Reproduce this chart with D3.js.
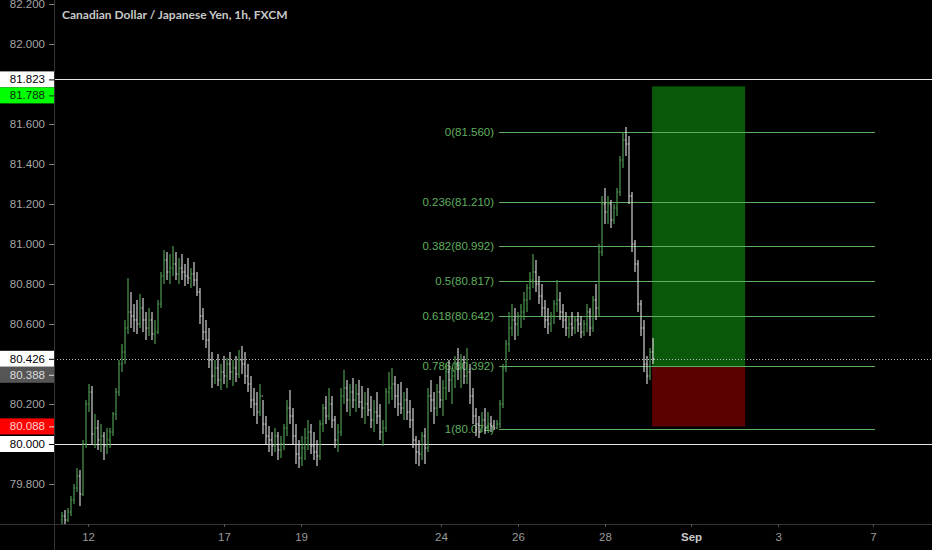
<!DOCTYPE html>
<html>
<head>
<meta charset="utf-8">
<script src="https://cdn.jsdelivr.net/npm/d3@7"></script>
<style>
  body { margin: 0; background: #000; }
  svg { display: block; }
</style>
</head>
<body>
<div id="chart"></div>
<script>
// chart size + plot area
const width = 932;
const height = 550;
const margin = {left: 54, right: 0, top: 0, bottom: 26};

// hourly bars (open = previous close)
const firstOpen = 79.62;
const highs = [
  79.66,79.67,79.68,79.74,79.80,79.88,79.87,80.02,80.22,80.30,
  80.29,80.15,80.12,80.10,80.06,80.08,80.08,80.16,80.28,80.42,
  80.50,80.62,80.83,80.76,80.70,80.72,80.75,80.73,80.66,80.68,
  80.66,80.62,80.72,80.86,80.97,80.96,80.95,80.99,80.96,80.93,
  80.95,80.90,80.93,80.88,80.91,80.86,80.78,80.68,80.62,80.58,
  80.46,80.42,80.45,80.40,80.44,80.43,80.46,80.42,80.44,80.47,
  80.49,80.46,80.40,80.34,80.28,80.26,80.30,80.22,80.14,80.09,
  80.06,80.08,80.06,80.04,80.10,80.22,80.27,80.18,80.10,80.02,
  80.04,80.08,80.12,80.10,80.06,80.02,80.12,80.20,80.24,80.28,
  80.24,80.14,80.10,80.28,80.37,80.32,80.30,80.33,80.30,80.32,
  80.29,80.26,80.28,80.24,80.22,80.26,80.20,80.12,80.28,80.36,
  80.38,80.34,80.30,80.31,80.26,80.28,80.22,80.18,80.04,80.02,
  80.06,80.08,80.28,80.32,80.26,80.30,80.34,80.32,80.40,80.42,
  80.38,80.44,80.48,80.45,80.44,80.48,80.40,80.28,80.18,80.14,
  80.16,80.18,80.16,80.14,80.12,80.12,80.22,80.40,80.52,80.66,
  80.70,80.68,80.66,80.70,80.76,80.80,80.86,80.95,80.92,80.84,
  80.80,80.72,80.68,80.66,80.72,80.82,80.76,80.70,80.66,80.64,
  80.66,80.64,80.66,80.64,80.62,80.70,80.68,80.74,80.80,81.00,
  81.24,81.28,81.24,81.22,81.20,81.28,81.44,81.56,81.585,81.54,
  81.26,81.02,80.92,80.72,80.62,80.44,80.48,80.53
];
const lows = [
  79.58,79.60,79.61,79.64,79.70,79.76,79.69,79.74,79.98,80.16,
  80.00,79.98,79.97,79.96,79.92,79.95,79.98,80.04,80.12,80.24,
  80.36,80.40,80.55,80.58,80.56,80.55,80.58,80.56,80.52,80.54,
  80.52,80.50,80.55,80.68,80.80,80.82,80.80,80.84,80.82,80.80,
  80.82,80.79,80.80,80.78,80.79,80.74,80.60,80.52,80.48,80.38,
  80.28,80.30,80.29,80.27,80.30,80.28,80.32,80.29,80.31,80.33,
  80.35,80.30,80.26,80.18,80.14,80.10,80.14,80.05,80.00,79.96,
  79.94,79.96,79.92,79.93,79.97,80.04,80.10,80.00,79.90,79.88,
  79.89,79.92,79.97,79.95,79.92,79.89,79.92,80.06,80.10,80.12,
  80.08,79.98,79.96,80.04,80.20,80.16,80.14,80.18,80.16,80.18,
  80.13,80.10,80.14,80.08,80.06,80.10,80.02,79.99,80.06,80.20,
  80.22,80.18,80.14,80.15,80.12,80.12,80.08,79.98,79.90,79.89,
  79.92,79.90,79.96,80.16,80.10,80.14,80.18,80.14,80.22,80.26,
  80.20,80.28,80.32,80.28,80.30,80.30,80.20,80.10,80.04,80.03,
  80.06,80.05,80.07,80.06,80.07,80.074,80.08,80.18,80.36,80.46,
  80.54,80.52,80.54,80.58,80.62,80.66,80.72,80.78,80.76,80.70,
  80.64,80.58,80.55,80.56,80.60,80.66,80.62,80.58,80.54,80.53,
  80.54,80.55,80.56,80.53,80.54,80.56,80.54,80.56,80.62,80.64,
  80.94,81.10,81.10,81.08,81.10,81.14,81.24,81.38,81.44,81.20,
  80.96,80.86,80.66,80.54,80.36,80.30,80.32,80.40
];
const closes = [
  79.64,79.62,79.66,79.72,79.78,79.84,79.75,80.00,80.20,80.26,
  80.05,80.08,80.02,80.04,79.99,80.02,80.06,80.15,80.26,80.40,
  80.46,80.58,80.66,80.64,80.62,80.60,80.68,80.62,80.58,80.62,
  80.55,80.56,80.70,80.84,80.92,80.86,80.88,80.90,80.85,80.88,
  80.86,80.84,80.83,80.85,80.82,80.76,80.64,80.56,80.52,80.42,
  80.34,80.38,80.32,80.36,80.34,80.40,80.36,80.38,80.35,80.42,
  80.40,80.34,80.30,80.22,80.20,80.16,80.24,80.10,80.04,80.02,
  79.99,80.04,79.97,80.00,80.08,80.18,80.14,80.04,79.95,79.93,
  79.98,80.03,80.06,79.99,79.96,79.94,80.10,80.18,80.14,80.20,
  80.12,80.02,80.06,80.24,80.28,80.22,80.26,80.22,80.25,80.21,
  80.18,80.20,80.17,80.12,80.16,80.14,80.06,80.08,80.26,80.28,
  80.30,80.24,80.20,80.18,80.22,80.16,80.12,80.02,79.96,79.95,
  80.04,79.98,80.24,80.22,80.18,80.26,80.22,80.28,80.36,80.32,
  80.34,80.40,80.38,80.42,80.34,80.36,80.24,80.14,80.10,80.06,
  80.12,80.08,80.10,80.09,80.08,80.10,80.20,80.38,80.50,80.58,
  80.62,80.60,80.64,80.66,80.72,80.78,80.82,80.86,80.80,80.74,
  80.68,80.62,80.60,80.64,80.70,80.72,80.66,80.62,80.58,80.60,
  80.58,80.62,80.60,80.56,80.60,80.66,80.58,80.72,80.68,80.96,
  81.20,81.16,81.20,81.12,81.18,81.26,81.42,81.52,81.50,81.24,
  81.00,80.90,80.70,80.58,80.40,80.34,80.46,80.426
];

// x axis day labels and the bar index they sit on
const dayLabels = ["12", "17", "19", "24", "26", "28", "Sep", "3", "7"];
const dayTicks = [8.7, 54, 79.7, 126.3, 152, 181, 209.7, 238.7, 270.3];

// y axis ticks (81.8, 80.4 and 80.0 sit under the price boxes)
const priceTicks = [82.2, 82.0, 81.6, 81.4, 81.2, 81.0, 80.8, 80.6, 80.2, 79.8];

// fib retracement
const fibRatios = ["0", "0.236", "0.382", "0.5", "0.618", "0.786", "1"];
const fibPrices = [81.560, 81.210, 80.992, 80.817, 80.642, 80.392, 80.074];
const fibStart = 145.7;
const fibEnd = 271;

// long position tool
const posStart = 196.7;
const posEnd = 227.7;
const targetPrice = 81.788;
const entryPrice = 80.388;
const stopPrice = 80.088;

// price labels on the axis
const markerValues = [81.823, 81.788, 80.426, 80.388, 80.088, 80.000];
const markerFill = ["#ffffff", "#00ff00", "#ffffff", "#555555", "#ff0000", "#ffffff"];
const markerText = ["#000000", "#0a2a0a", "#000000", "#dddddd", "#ffd0d0", "#000000"];

// horizontal lines across the plot
const hLines = [81.823, 80.000];
const lastPrice = 80.426;

const upColor = "#4f9a4f";
const downColor = "#d4d4d4";
const fibColor = "#5fae5f";

const svg = d3.select("#chart")
  .append("svg")
  .attr("width", width)
  .attr("height", height)
  .style("background", "#000");

// scales
const xScale = d3.scaleLinear()
  .domain([0, 290])
  .range([62, 932]);

const yScale = d3.scaleLinear()
  .domain([79.6, 82.22])
  .range([height - margin.bottom, margin.top]);

svg.append("clipPath")
  .attr("id", "plot-clip")
  .append("rect")
  .attr("x", margin.left)
  .attr("y", 0)
  .attr("width", width - margin.left)
  .attr("height", height - margin.bottom);

const plot = svg.append("g").attr("clip-path", "url(#plot-clip)");

// position tool boxes
plot.append("rect")
  .attr("x", xScale(posStart))
  .attr("y", yScale(targetPrice))
  .attr("width", xScale(posEnd) - xScale(posStart))
  .attr("height", yScale(entryPrice) - yScale(targetPrice))
  .attr("fill", "#0a590a");

plot.append("rect")
  .attr("x", xScale(posStart))
  .attr("y", yScale(entryPrice))
  .attr("width", xScale(posEnd) - xScale(posStart))
  .attr("height", yScale(stopPrice) - yScale(entryPrice))
  .attr("fill", "#5c0000");

// horizontal white lines
plot.selectAll(".hline")
  .data(hLines)
  .enter()
  .append("line")
  .attr("class", "hline")
  .attr("x1", margin.left)
  .attr("x2", width)
  .attr("y1", d => Math.round(yScale(d)) + 0.5)
  .attr("y2", d => Math.round(yScale(d)) + 0.5)
  .attr("stroke", "#e6e6e6")
  .attr("stroke-width", 1.2);

// last price dotted line
plot.append("line")
  .attr("x1", margin.left)
  .attr("x2", width)
  .attr("y1", Math.round(yScale(lastPrice)) + 0.5)
  .attr("y2", Math.round(yScale(lastPrice)) + 0.5)
  .attr("stroke", "#bbbbbb")
  .attr("stroke-dasharray", "1,2");

// fib lines + labels (drawn under the bars)
const fibData = fibRatios.map((r, i) => ({ratio: r, price: fibPrices[i]}));

plot.selectAll(".fib")
  .data(fibData)
  .enter()
  .append("line")
  .attr("class", "fib")
  .attr("x1", xScale(fibStart))
  .attr("x2", xScale(fibEnd))
  .attr("y1", d => Math.round(yScale(d.price)) + 0.5)
  .attr("y2", d => Math.round(yScale(d.price)) + 0.5)
  .attr("stroke", fibColor)
  .attr("stroke-width", 1);

plot.selectAll(".fib-label")
  .data(fibData)
  .enter()
  .append("text")
  .attr("class", "fib-label")
  .attr("x", xScale(fibStart) - 5)
  .attr("y", d => yScale(d.price))
  .attr("dy", "0.35em")
  .attr("text-anchor", "end")
  .attr("fill", fibColor)
  .attr("font-family", "Liberation Sans, Arial, sans-serif")
  .attr("font-size", "11.5px")
  .text(d => d.ratio + "(" + d.price.toFixed(3) + ")");

// OHLC bars
const bars = highs.map((h, i) => ({
  i: i,
  open: i === 0 ? firstOpen : closes[i - 1],
  high: h,
  low: lows[i],
  close: closes[i]
}));

const barG = plot.selectAll(".bar")
  .data(bars)
  .enter()
  .append("g")
  .attr("class", "bar")
  .attr("stroke", d => d.close >= d.open ? upColor : downColor)
  .attr("stroke-width", 1.2);

barG.append("line")
  .attr("x1", d => xScale(d.i))
  .attr("x2", d => xScale(d.i))
  .attr("y1", d => yScale(d.high))
  .attr("y2", d => yScale(d.low));

barG.append("line")
  .attr("x1", d => xScale(d.i) - 1.2)
  .attr("x2", d => xScale(d.i))
  .attr("y1", d => yScale(d.open))
  .attr("y2", d => yScale(d.open));

barG.append("line")
  .attr("x1", d => xScale(d.i))
  .attr("x2", d => xScale(d.i) + 1.2)
  .attr("y1", d => yScale(d.close))
  .attr("y2", d => yScale(d.close));

// axis lines
svg.append("line")
  .attr("x1", margin.left + 0.5).attr("x2", margin.left + 0.5)
  .attr("y1", 0).attr("y2", height)
  .attr("stroke", "#333");

svg.append("line")
  .attr("x1", 0).attr("x2", width)
  .attr("y1", height - margin.bottom + 0.5).attr("y2", height - margin.bottom + 0.5)
  .attr("stroke", "#333");

// y axis
const yAxis = svg.append("g")
  .attr("transform", `translate(${margin.left},0)`)
  .call(d3.axisLeft(yScale)
    .tickValues(priceTicks)
    .tickFormat(d3.format(".3f"))
    .tickSize(5)
    .tickPadding(4));
yAxis.select(".domain").remove();
yAxis.selectAll("line").attr("stroke", "#888");
yAxis.selectAll("text")
  .attr("fill", "#a6a6a6")
  .attr("font-family", "Liberation Sans, Arial, sans-serif")
  .attr("font-size", "11.5px");

// x axis
const xAxis = svg.append("g")
  .attr("transform", `translate(0,${height - margin.bottom})`)
  .call(d3.axisBottom(xScale)
    .tickValues(dayTicks)
    .tickFormat((d, i) => dayLabels[i])
    .tickSize(3)
    .tickPadding(6));
xAxis.select(".domain").remove();
xAxis.selectAll("line").attr("stroke", "#555");
xAxis.selectAll("text")
  .attr("fill", (d, i) => dayLabels[i] === "Sep" ? "#c8c8c8" : "#9a9a9a")
  .attr("font-weight", (d, i) => dayLabels[i] === "Sep" ? "bold" : "normal")
  .attr("font-family", "Liberation Sans, Arial, sans-serif")
  .attr("font-size", "11.5px");

// axis price boxes, pushed apart when they overlap
const markers = markerValues.map((v, i) => ({value: v, y: yScale(v), fill: markerFill[i], text: markerText[i]}));
markers.sort((a, b) => a.y - b.y);
for (let k = 1; k < markers.length; k++) {
  if (markers[k].y < markers[k - 1].y + 16) markers[k].y = markers[k - 1].y + 16;
}

const markerG = svg.selectAll(".marker")
  .data(markers)
  .enter()
  .append("g")
  .attr("class", "marker")
  .attr("transform", d => `translate(0,${d.y})`);

markerG.append("rect")
  .attr("x", 0)
  .attr("y", -8)
  .attr("width", margin.left)
  .attr("height", 16)
  .attr("fill", d => d.fill);

markerG.append("line")
  .attr("x1", 49).attr("x2", 54)
  .attr("y1", 0.5).attr("y2", 0.5)
  .attr("stroke", d => d.text);

markerG.append("text")
  .attr("x", 45)
  .attr("dy", "0.35em")
  .attr("text-anchor", "end")
  .attr("fill", d => d.text)
  .attr("font-family", "Liberation Sans, Arial, sans-serif")
  .attr("font-size", "11.5px")
  .text(d => d.value.toFixed(3));

// title
svg.append("text")
  .attr("x", 62)
  .attr("y", 19)
  .attr("fill", "#c8c8c8")
  .attr("font-family", "Lato, sans-serif")
  .attr("font-weight", "bold")
  .attr("font-size", "12px")
  .text("Canadian Dollar / Japanese Yen, 1h, FXCM");
</script>
</body>
</html>
